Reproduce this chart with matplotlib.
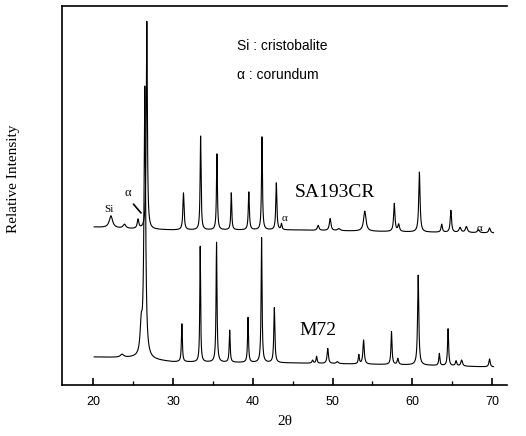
import numpy as np
import matplotlib.pyplot as plt
from matplotlib.ticker import MultipleLocator

# peak tables: centre (2theta), height, half width
m72_pos = [23.6, 26.0, 26.45, 31.1, 33.4, 35.45, 37.1, 39.4, 41.1, 42.7,
           47.5, 48.0, 49.4, 50.6, 53.3, 53.9, 57.4, 58.2, 60.75, 63.4,
           64.5, 65.5, 66.2, 69.7]
m72_hgt = [3, 28, 270, 38, 116, 120, 32, 45, 125, 55,
           3, 7, 15, 2, 9, 24, 33, 6, 90, 12,
           37, 5, 6, 8]
m72_wid = [0.25, 0.16, 0.12, 0.07, 0.06, 0.07, 0.07, 0.07, 0.07, 0.08,
           0.1, 0.08, 0.1, 0.15, 0.08, 0.1, 0.08, 0.1, 0.09, 0.08,
           0.08, 0.1, 0.12, 0.1]
m72_base = [28, 27, 23, 22, 20, 18]
base_x = [20, 25, 30, 45, 60, 70]

sa_pos = [22.2, 23.9, 25.6, 26.7, 31.3, 33.45, 35.5, 37.3, 39.5, 41.15,
          42.95, 43.6, 48.2, 49.7, 50.8, 54.05, 57.75, 58.3, 60.9, 63.7,
          64.85, 66.0, 66.8, 68.3, 69.7]
sa_hgt = [12, 4, 9, 208, 37, 94, 76, 37, 38, 93,
          47, 6, 5, 12, 2, 20, 28, 7, 60, 8,
          22, 5, 6, 3, 5]
sa_wid = [0.25, 0.2, 0.12, 0.08, 0.09, 0.07, 0.07, 0.07, 0.08, 0.07,
          0.08, 0.08, 0.12, 0.12, 0.2, 0.18, 0.1, 0.12, 0.1, 0.1,
          0.1, 0.15, 0.15, 0.15, 0.12]
sa_base = [158, 156, 155, 155, 153, 152]

plt.rcParams['font.family'] = ['Liberation Serif', 'DejaVu Serif']


def pattern(x, pos, hgt, wid, base):
    y = np.interp(x, base_x, base)
    for c, h, w in zip(pos, hgt, wid):
        y = y + h / (1 + ((x - c) / w) ** 2)
    return y


x = np.linspace(20.1, 70.2, 8000)

fig = plt.figure(figsize=(5.26, 4.36), dpi=100)
ax = fig.add_axes([0.118, 0.117, 0.846, 0.869])

ax.plot(x, pattern(x, m72_pos, m72_hgt, m72_wid, m72_base), color='black', lw=0.8)
ax.plot(x, pattern(x, sa_pos, sa_hgt, sa_wid, sa_base), color='black', lw=0.8)

ax.set_xlim(16.07, 71.9)
ax.set_ylim(0, 379)
ax.spines['right'].set_visible(False)
for s in ['left', 'bottom', 'top']:
    ax.spines[s].set_linewidth(1.2)
ax.set_yticks([])
ax.xaxis.set_major_locator(MultipleLocator(10))
ax.xaxis.set_minor_locator(MultipleLocator(5))
ax.tick_params(axis='x', which='major', direction='in', length=5, width=1.2,
               labelsize=9, pad=8)
ax.tick_params(axis='x', which='minor', direction='in', length=3, width=1)
for lab in ax.get_xticklabels():
    lab.set_family(['Liberation Sans', 'DejaVu Sans'])

ax.set_xlabel('2θ', fontsize=11, labelpad=5)
ax.set_ylabel('Relative Intensity', fontsize=11)
ax.yaxis.set_label_coords(-0.095, 0.545)

sans = ['Liberation Sans', 'DejaVu Sans']
ax.text(38.0, 339, 'Si : cristobalite', fontsize=10, family=sans, va='center')
ax.text(38.0, 310, 'α : corundum', fontsize=10, family=sans, va='center')

ax.text(45.3, 193, 'SA193CR', fontsize=14, va='center')
ax.text(45.9, 55, 'M72', fontsize=14, va='center')

ax.text(21.9, 176, 'Si', fontsize=8, va='center', ha='center')
ax.text(24.3, 192, 'α', fontsize=9, va='center', ha='center')
ax.annotate('', xy=(26.2, 170), xytext=(24.8, 183),
            arrowprops=dict(arrowstyle='-', lw=1.2, color='black'))
ax.text(44.0, 167, 'α', fontsize=8, va='center', ha='center')
ax.text(68.4, 157, 'α', fontsize=8, va='center', ha='center')

fig.savefig('out.png', dpi=100)
